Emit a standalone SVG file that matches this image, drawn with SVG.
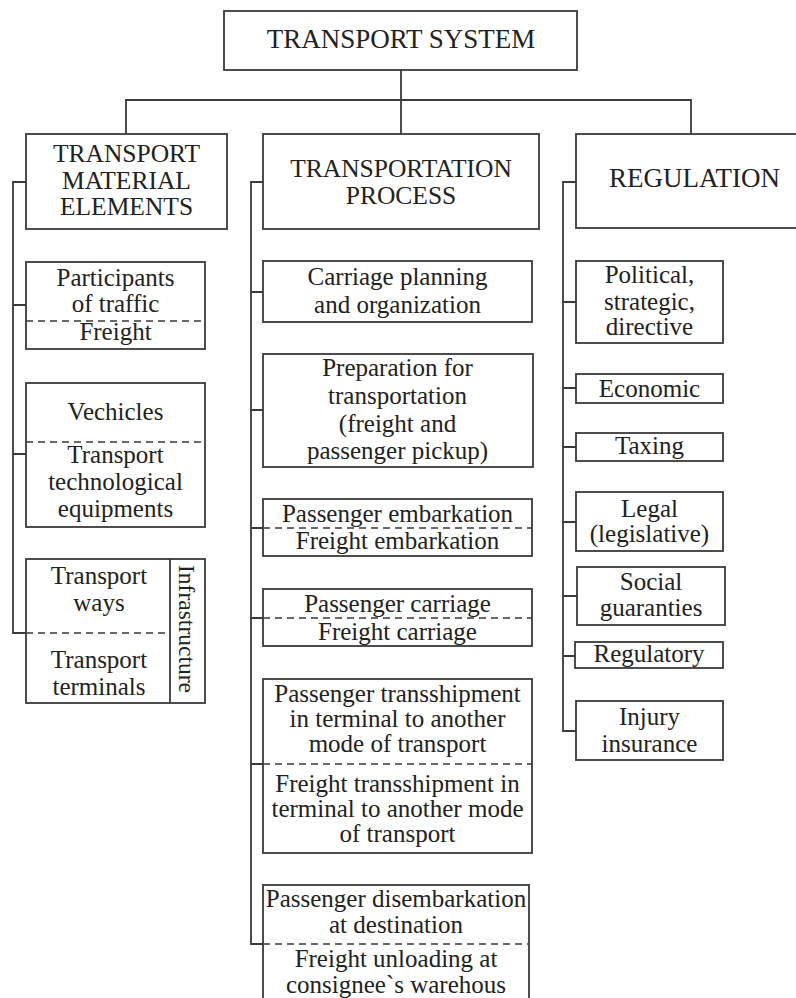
<svg xmlns="http://www.w3.org/2000/svg" width="796" height="998" viewBox="0 0 796 998" font-family="'Liberation Serif', 'Times New Roman', 'DejaVu Serif', serif">
<style>
.b{fill:#fff;stroke:#3a3a3a;stroke-width:1.8}
.c{fill:none;stroke:#3a3a3a;stroke-width:1.8}
.d{fill:none;stroke:#3a3a3a;stroke-width:1.4;stroke-dasharray:7 5}
.t{font-family:'Liberation Serif','Times New Roman',serif;font-size:25px;fill:#222;text-anchor:middle}
.h{font-size:25.5px}
</style>
<rect width="796" height="998" fill="#fff"/>
<g id="connectors">
<path class="c" d="M401 70V134M126 134V100H691V134"/>
<path class="c" d="M26 182H13V633H26M13 305H26M13 454H26"/>
<path class="c" d="M263 182H251V944H263M251 292H263M251 410H263M251 528H263M251 618H263M251 764H263"/>
<path class="c" d="M576 182H563V731H576M563 302H576M563 388H576M563 447H576M563 522H576M563 596H577M563 656H575"/>
</g>
<g id="root"><rect class="b" x="224" y="11" width="353" height="59"/><text class="t" style="font-size:27px" x="401" y="48">TRANSPORT SYSTEM</text></g>
<g id="material"><rect class="b" x="26" y="134" width="201" height="95"/><text class="t h" x="126.5" y="162">TRANSPORT</text><text class="t h" x="126.5" y="188.5">MATERIAL</text><text class="t h" x="126.5" y="215">ELEMENTS</text></g>
<g id="process"><rect class="b" x="263" y="134" width="276" height="95"/><text class="t h" x="401" y="177">TRANSPORTATION</text><text class="t h" x="401" y="204">PROCESS</text></g>
<g id="regulation"><rect class="b" x="576" y="134" width="240" height="94"/><text class="t" style="font-size:27px" x="694.5" y="187">REGULATION</text></g>

<g id="participants"><rect class="b" x="26" y="262" width="179" height="87"/><line class="d" x1="26" y1="321" x2="205" y2="321"/><text class="t" x="115.5" y="286">Participants</text><text class="t" x="115.5" y="312">of traffic</text><text class="t" x="115.5" y="340">Freight</text></g>
<g id="vehicles"><rect class="b" x="26" y="383" width="179" height="144"/><line class="d" x1="26" y1="442" x2="205" y2="442"/><text class="t" x="115.5" y="420">Vechicles</text><text class="t" x="115.5" y="463">Transport</text><text class="t" x="115.5" y="490">technological</text><text class="t" x="115.5" y="517">equipments</text></g>
<g id="infrastructure"><rect class="b" x="26" y="559" width="179" height="144"/><line class="c" x1="170" y1="559" x2="170" y2="703"/><line class="d" x1="26" y1="633" x2="170" y2="633"/><text class="t" x="99" y="584">Transport</text><text class="t" x="99" y="611">ways</text><text class="t" x="99" y="668">Transport</text><text class="t" x="99" y="695">terminals</text><text class="t" transform="translate(179 629) rotate(90)" style="font-size:24px" textLength="128" lengthAdjust="spacingAndGlyphs">Infrastructure</text></g>

<g id="planning"><rect class="b" x="263" y="261" width="269" height="61"/><text class="t" x="397.5" y="285">Carriage planning</text><text class="t" x="397.5" y="313">and organization</text></g>
<g id="preparation"><rect class="b" x="263" y="354" width="270" height="113"/><text class="t" x="397.5" y="376">Preparation for</text><text class="t" x="397.5" y="404">transportation</text><text class="t" x="397.5" y="432">(freight and</text><text class="t" x="397.5" y="459">passenger pickup)</text></g>
<g id="embarkation"><rect class="b" x="263" y="499" width="269" height="57"/><line class="d" x1="263" y1="528" x2="532" y2="528"/><text class="t" x="397.5" y="522">Passenger embarkation</text><text class="t" x="397.5" y="549">Freight embarkation</text></g>
<g id="carriage"><rect class="b" x="263" y="589" width="269" height="57"/><line class="d" x1="263" y1="618" x2="532" y2="618"/><text class="t" x="397.5" y="612">Passenger carriage</text><text class="t" x="397.5" y="640">Freight carriage</text></g>
<g id="transshipment"><rect class="b" x="263" y="679" width="269" height="174"/><line class="d" x1="263" y1="764" x2="532" y2="764"/><text class="t" x="397.5" y="702">Passenger transshipment</text><text class="t" x="397.5" y="727">in terminal to another</text><text class="t" x="397.5" y="752">mode of transport</text><text class="t" x="397.5" y="792">Freight transshipment in</text><text class="t" x="397.5" y="817">terminal to another mode</text><text class="t" x="397.5" y="842">of transport</text></g>
<g id="disembarkation"><rect class="b" x="263" y="885" width="266" height="130"/><line class="d" x1="263" y1="944" x2="529" y2="944"/><text class="t" x="396" y="907">Passenger disembarkation</text><text class="t" x="396" y="933">at destination</text><text class="t" x="396" y="967">Freight unloading at</text><text class="t" x="396" y="993">consignee`s warehous</text></g>

<g id="political"><rect class="b" x="576" y="261" width="147" height="82"/><text class="t" x="649.5" y="283">Political,</text><text class="t" x="649.5" y="310">strategic,</text><text class="t" x="649.5" y="335">directive</text></g>
<g id="economic"><rect class="b" x="576" y="374" width="147" height="29"/><text class="t" x="649.5" y="397">Economic</text></g>
<g id="taxing"><rect class="b" x="576" y="433" width="147" height="28"/><text class="t" x="649.5" y="454">Taxing</text></g>
<g id="legal"><rect class="b" x="576" y="492" width="147" height="59"/><text class="t" x="649.5" y="517">Legal</text><text class="t" x="649.5" y="542">(legislative)</text></g>
<g id="social"><rect class="b" x="577" y="567" width="148" height="58"/><text class="t" x="651" y="590">Social</text><text class="t" x="651" y="616">guaranties</text></g>
<g id="regulatory"><rect class="b" x="575" y="642" width="148" height="26"/><text class="t" x="649" y="662">Regulatory</text></g>
<g id="injury"><rect class="b" x="576" y="701" width="147" height="59"/><text class="t" x="649.5" y="725">Injury</text><text class="t" x="649.5" y="752">insurance</text></g>
</svg>
